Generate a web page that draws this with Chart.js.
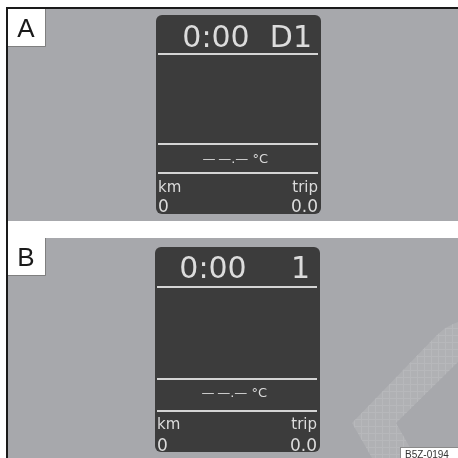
<!DOCTYPE html>
<html>
<head>
<meta charset="utf-8">
<script src="https://cdn.jsdelivr.net/npm/chart.js@4"></script>
<style>
  html, body { margin: 0; padding: 0; background: #ffffff; }
  canvas { display: block; }
</style>
</head>
<body>
<canvas id="dash" width="458" height="458"></canvas>
<script>
// display contents, one entry per panel
const panelLabels = ['A', 'B'];
const clockText = ['0:00', '0:00'];
const gearText = ['D1', '1'];
const tempText = ['\u2014\u2009\u2014.\u2014 \u00B0C', '\u2014\u2009\u2014.\u2014 \u00B0C'];
const leftUnit = ['km', 'km'];
const rightUnit = ['trip', 'trip'];
const odoValues = ['0', '0'];
const tripValues = ['0.0', '0.0'];
const figureCode = 'B5Z-0194';

// where things go (page units, 0..458)
const panels = [
    { top: 9, bottom: 221, box: { x: 156, y: 15, w: 165, h: 199 }, lines: [54, 144, 173],
      clockX: 216, clockY: 47, gearX: 312, tempX: 268, tempY: 163, unitY: 192, valY: 212 },
    { top: 238, bottom: 458, box: { x: 155, y: 247, w: 165, h: 205 }, lines: [287, 379, 411],
      clockX: 213, clockY: 278, gearX: 310, tempX: 267, tempY: 397, unitY: 429, valY: 451 }
];

const artPlugin = {
    id: 'dashboardArt',
    beforeDatasetsDraw(chart) {
        const ctx = chart.ctx;
        const sx = chart.scales.x, sy = chart.scales.y;
        const X = v => sx.getPixelForValue(v);
        const Y = v => sy.getPixelForValue(v);
        ctx.save();

        // outer frame
        ctx.fillStyle = '#ffffff';
        ctx.fillRect(X(0), Y(0), X(458) - X(0), Y(458) - Y(0));

        panels.forEach((p, i) => {
            // grey panel
            ctx.fillStyle = '#a7a8ac';
            ctx.fillRect(X(7), Y(p.top), X(458) - X(7), Y(p.bottom) - Y(p.top));

            // watermark chevron on panel B
            if (i === 1) {
                ctx.save();
                ctx.beginPath();
                ctx.moveTo(X(458), Y(322));
                ctx.quadraticCurveTo(X(446), Y(326), X(436), Y(336));
                ctx.lineTo(X(352), Y(423));
                ctx.lineTo(X(372), Y(458));
                ctx.lineTo(X(416), Y(458));
                ctx.lineTo(X(396), Y(423));
                ctx.lineTo(X(458), Y(362));
                ctx.closePath();
                ctx.fillStyle = '#b0b1b4';
                ctx.fill();
                ctx.clip();
                ctx.strokeStyle = '#b7b8bb';
                ctx.lineWidth = 1;
                for (let g = 340; g <= 458; g += 7) {
                    ctx.beginPath(); ctx.moveTo(X(g) + 0.5, Y(300)); ctx.lineTo(X(g) + 0.5, Y(458)); ctx.stroke();
                }
                for (let g = 300; g <= 458; g += 7) {
                    ctx.beginPath(); ctx.moveTo(X(340), Y(g) + 0.5); ctx.lineTo(X(458), Y(g) + 0.5); ctx.stroke();
                }
                ctx.restore();
            }

            // letter box
            ctx.fillStyle = '#ffffff';
            ctx.fillRect(X(8), Y(p.top), X(45) - X(8), Y(p.top + 37) - Y(p.top));
            ctx.strokeStyle = '#7f7f7f';
            ctx.lineWidth = 1;
            ctx.beginPath();
            ctx.moveTo(X(45) + 0.5, Y(p.top));
            ctx.lineTo(X(45) + 0.5, Y(p.top + 37) + 0.5);
            ctx.lineTo(X(8), Y(p.top + 37) + 0.5);
            ctx.stroke();
            ctx.fillStyle = '#1a1a1a';
            ctx.font = '26px "Liberation Sans", Arial, sans-serif';
            ctx.textAlign = 'center';
            ctx.textBaseline = 'alphabetic';
            ctx.fillText(panelLabels[i], X(26), Y(p.top + 28));

            // display
            const b = p.box;
            ctx.fillStyle = '#3c3c3c';
            ctx.beginPath();
            ctx.roundRect(X(b.x), Y(b.y), X(b.x + b.w) - X(b.x), Y(b.y + b.h) - Y(b.y), 6);
            ctx.fill();

            ctx.strokeStyle = '#d4d4d4';
            ctx.lineWidth = 2;
            p.lines.forEach(ly => {
                ctx.beginPath();
                ctx.moveTo(X(b.x + 2), Y(ly));
                ctx.lineTo(X(b.x + b.w - 3), Y(ly));
                ctx.stroke();
            });

            ctx.fillStyle = '#dcdcdc';
            ctx.font = '30px "DejaVu Sans", sans-serif';
            ctx.textAlign = 'center';
            ctx.fillText(clockText[i], X(p.clockX), Y(p.clockY));
            ctx.textAlign = 'right';
            ctx.fillText(gearText[i], X(p.gearX), Y(p.clockY));

            ctx.font = '13px "DejaVu Sans", sans-serif';
            ctx.fillText(tempText[i], X(p.tempX), Y(p.tempY));

            ctx.font = '15px "DejaVu Sans", sans-serif';
            ctx.textAlign = 'left';
            ctx.fillText(leftUnit[i], X(b.x + 2), Y(p.unitY));
            ctx.textAlign = 'right';
            ctx.fillText(rightUnit[i], X(b.x + b.w - 3), Y(p.unitY));

            ctx.font = '17px "DejaVu Sans", sans-serif';
            ctx.textAlign = 'left';
            ctx.fillText(odoValues[i], X(b.x + 2), Y(p.valY));
            ctx.textAlign = 'right';
            ctx.fillText(tripValues[i], X(b.x + b.w - 3), Y(p.valY));
        });

        // black frame lines
        ctx.fillStyle = '#1a1a1a';
        ctx.fillRect(X(6), Y(7), X(458) - X(6), 2);
        ctx.fillRect(X(6), Y(7), 2, Y(458) - Y(7));

        // figure code tag
        ctx.fillStyle = '#ffffff';
        ctx.fillRect(X(400), Y(447), X(458) - X(400), Y(458) - Y(447));
        ctx.strokeStyle = '#8a8a8a';
        ctx.lineWidth = 1;
        ctx.strokeRect(X(400) + 0.5, Y(447) + 0.5, X(458) - X(400), Y(458) - Y(447));
        ctx.fillStyle = '#333333';
        ctx.font = '10px "Liberation Sans", Arial, sans-serif';
        ctx.textAlign = 'left';
        ctx.fillText(figureCode, X(405), Y(458));

        ctx.restore();
    }
};

new Chart(document.getElementById('dash'), {
    type: 'scatter',
    data: { datasets: [{ data: [], pointRadius: 0 }] },
    options: {
        responsive: false,
        animation: false,
        layout: { padding: 0 },
        plugins: { legend: { display: false }, tooltip: { enabled: false } },
        scales: {
            x: { type: 'linear', min: 0, max: 458, display: false },
            y: { type: 'linear', min: 0, max: 458, reverse: true, display: false }
        }
    },
    plugins: [artPlugin]
});
</script>
</body>
</html>
